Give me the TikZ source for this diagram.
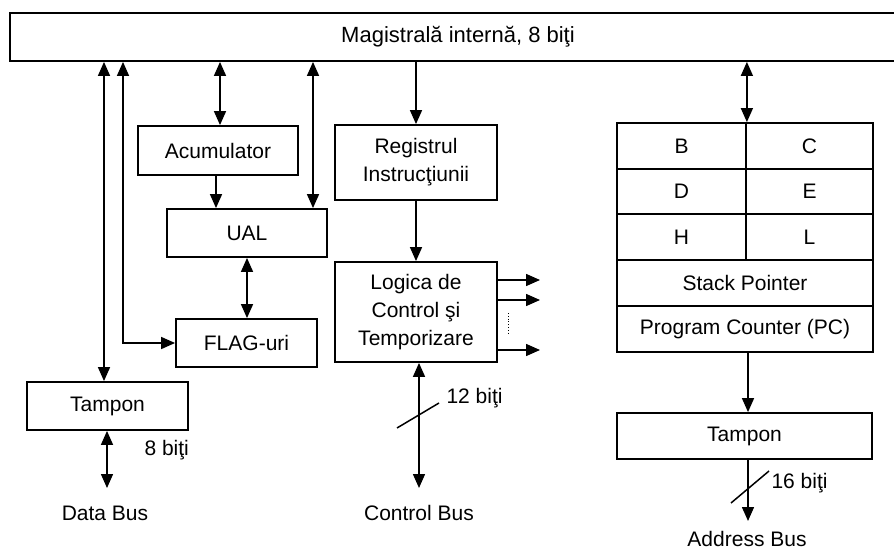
\documentclass[tikz,border=0pt]{standalone}
\usepackage{fontspec}
\setmainfont{Liberation Sans}
\usetikzlibrary{arrows.meta}
\begin{document}
\begin{tikzpicture}[x=1pt,y=-1pt,
  txt/.style={font=\fontsize{21}{28}\selectfont},
  blk/.style={draw,line width=1.8pt,inner sep=0pt,align=center,txt},
  wire/.style={line width=1.5pt},
  tip/.style={-{Triangle[length=14pt,width=12pt]}},
  dtip/.style={{Triangle[length=14pt,width=12pt]}-{Triangle[length=14pt,width=12pt]}}]
\useasboundingbox (0,0) rectangle (894,551);

% internal bus (runs off the right edge)
\node[blk,minimum width=896pt,minimum height=48pt,font=\fontsize{22}{28}\selectfont] (bus) at (458,37) {Magistrală internă, 8 biţi};

% accumulator, ALU and flags
\node[blk,minimum width=160pt,minimum height=49pt] (acc)  at (218,150.5) {Acumulator};
\node[blk,minimum width=160pt,minimum height=48pt] (ual)  at (247,233)   {UAL};
\node[blk,minimum width=141pt,minimum height=48pt] (flag) at (246.5,343) {FLAG-uri};
\node[blk,minimum width=161pt,minimum height=48pt] (tampD) at (107.5,406) {Tampon};

% instruction register and control logic
\node[blk,minimum width=162pt,minimum height=75pt] (reg)   at (416,162.5) {Registrul\\Instrucţiunii};
\node[blk,minimum width=162pt,minimum height=100pt] (logic) at (416,312) {Logica de\\Control şi\\Temporizare};

% register file
\node[blk,minimum width=129pt,minimum height=46pt] (rB) at (681.5,146) {B};
\node[blk,minimum width=127pt,minimum height=46pt] (rC) at (809.5,146) {C};
\node[blk,minimum width=129pt,minimum height=45pt] (rD) at (681.5,191.5) {D};
\node[blk,minimum width=127pt,minimum height=45pt] (rE) at (809.5,191.5) {E};
\node[blk,minimum width=129pt,minimum height=46pt] (rH) at (681.5,237) {H};
\node[blk,minimum width=127pt,minimum height=46pt] (rL) at (809.5,237) {L};
\node[blk,minimum width=256pt,minimum height=46pt] (sp) at (745,283) {Stack Pointer};
\node[blk,minimum width=256pt,minimum height=46pt] (pc) at (745,329) {Program Counter (PC)};
\node[blk,minimum width=255pt,minimum height=46pt] (tampA) at (744.5,436) {Tampon};

% column positions of the connectors
\coordinate (x104) at (104,0);
\coordinate (x123) at (123,0);
\coordinate (x220) at (220,0);
\coordinate (x216) at (216,0);
\coordinate (x313) at (313,0);
\coordinate (x419) at (419,0);
\coordinate (x748) at (748,0);
\coordinate (x540) at (540,0);

% external bus ends
\coordinate (dataEnd) at (107,488);
\coordinate (ctrlEnd) at (419,488);
\coordinate (addrEnd) at (748,521);

% data path connectors
\draw[wire,dtip] (bus.south -| x104) -- (tampD.north -| x104);
\draw[wire,dtip] (bus.south -| x123) |- (flag.west);
\draw[wire,dtip] (bus.south -| x220) -- (acc.north -| x220);
\draw[wire,tip]  (acc.south -| x216) -- (ual.north -| x216);
\draw[wire,dtip] (bus.south -| x313) -- (ual.north -| x313);
\draw[wire,dtip] (ual.south) -- (flag.north -| ual.south);
\draw[wire,dtip] (tampD.south -| dataEnd) -- (dataEnd);

% control path connectors
\draw[wire,tip] (bus.south -| reg.north) -- (reg.north);
\draw[wire,tip] (reg.south) -- (logic.north);
\foreach \yy in {280,300,350}
  \draw[wire,tip] (logic.east |- 0,\yy) -- (x540 |- 0,\yy);
\draw[line width=0.8pt,dotted] (508,313) -- (508,335);
\draw[wire,dtip] (logic.south -| x419) -- (ctrlEnd);
\draw[wire] (397,428) -- (439,403);

% address path connectors
\draw[wire,dtip] (bus.south -| rB.north east) -- (rB.north east);
\draw[wire,tip] (pc.south -| x748) -- (tampA.north -| x748);
\draw[wire,tip] (tampA.south -| x748) -- (addrEnd);
\draw[wire] (731,503) -- (769,471);

% labels
\node[txt,anchor=west] (l8)  at (141,450) {8 biţi};
\node[txt,anchor=west] (l12) at (443,398) {12 biţi};
\node[txt,anchor=west] (l16) at (768,483) {16 biţi};
\node[txt] (dbus) at (105,513) {Data Bus};
\node[txt] (cbus) at (419,513) {Control Bus};
\node[txt,inner sep=0pt,anchor=base] (abus) at (747,546) {Address Bus};
\end{tikzpicture}
\end{document}
